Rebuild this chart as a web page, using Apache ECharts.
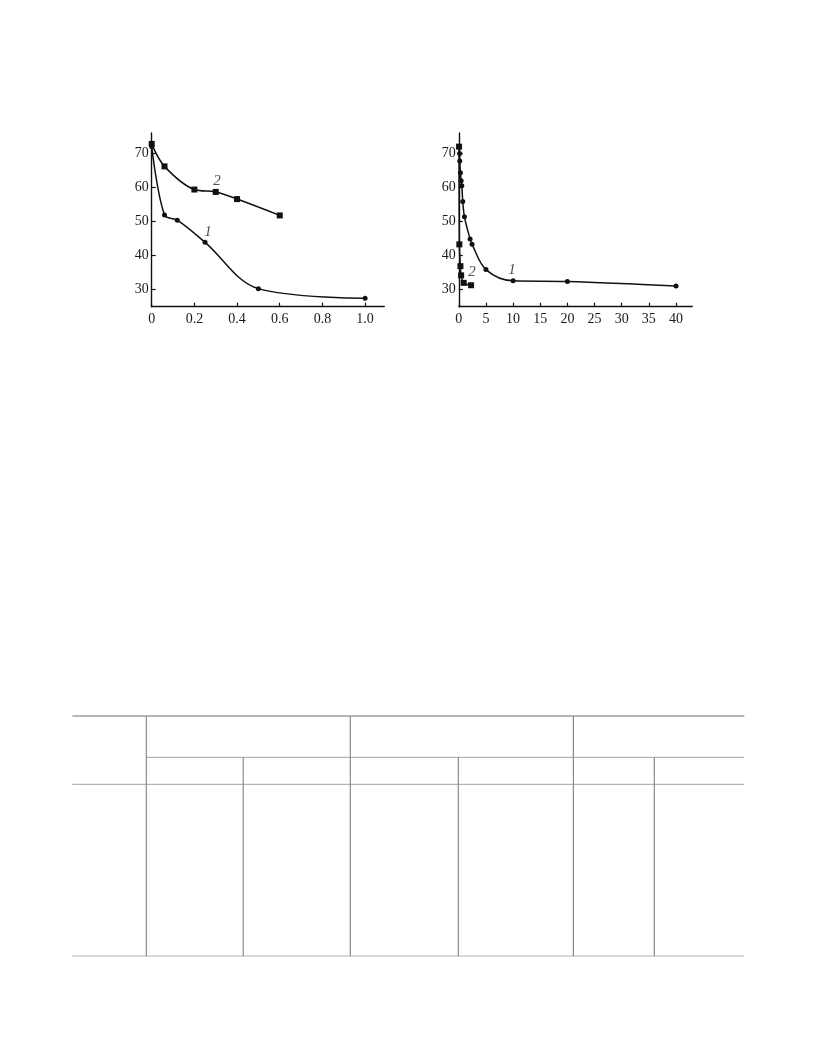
<!DOCTYPE html>
<html>
<head>
<meta charset="utf-8">
<script src="https://cdn.jsdelivr.net/npm/echarts@6/dist/echarts.min.js"></script>
<style>
html,body{margin:0;padding:0;background:#fff;}
#c{width:816px;height:1056px;}
</style>
</head>
<body>
<div id="c"></div>
<script>
// ---- data ----
const leftCurve1 = [[0,72],[0.06,51.9],[0.12,50.4],[0.25,43.9],[0.5,30.3],[1.0,27.5]];
const leftCurve2 = [[0,72.8],[0.06,66.2],[0.2,59.4],[0.3,58.7],[0.4,56.6],[0.6,51.8]];
const rightCurve1 = [[0.1,72],[0.15,70],[0.18,67.8],[0.3,64.3],[0.43,62],[0.55,60.5],[0.73,55.9],[1.04,51.4],[2.08,44.9],[2.44,43.3],[5,35.9],[10,32.6],[20,32.4],[40,31.1]];
const rightCurve2 = [[0.05,72],[0.1,43.3],[0.3,36.9],[0.43,34.2],[0.9,32],[2.26,31.3]];
const leftXTicks = [0,0.2,0.4,0.6,0.8,1.0];
const rightXTicks = [0,5,10,15,20,25,30,35,40];
const yTicks = [30,40,50,60,70];
const leftLabels = [{value:[0.306,61.8],text:'2'},{value:[0.264,46.8],text:'1'}];
const rightLabels = [{value:[2.45,35.1],text:'2'},{value:[9.8,35.8],text:'1'}];

const FONT = 'Liberation Serif';
const axisCommon = {
  axisLine:{show:true,onZero:false,lineStyle:{color:'#111',width:1.4}},
  axisTick:{show:true,inside:true,length:4,lineStyle:{color:'#111',width:1.2}},
  splitLine:{show:false},
  axisLabel:{color:'#1a1a1a',fontFamily:FONT,fontSize:14}
};
function xAxis(idx,max,ticks,fmt){
  return Object.assign({},axisCommon,{
    type:'value',gridIndex:idx,min:0,max:max,
    axisTick:Object.assign({},axisCommon.axisTick,{customValues:ticks}),
    axisLabel:Object.assign({},axisCommon.axisLabel,{customValues:ticks,margin:6,formatter:fmt})
  });
}
function yAxis(idx){
  return Object.assign({},axisCommon,{
    type:'value',gridIndex:idx,min:25,max:76,
    axisTick:Object.assign({},axisCommon.axisTick,{customValues:yTicks}),
    axisLabel:Object.assign({},axisCommon.axisLabel,{customValues:yTicks,margin:3})
  });
}
function lineSeries(idx,data,sym,size){
  return {type:'line',xAxisIndex:idx,yAxisIndex:idx,data:data,smooth:0.35,
    symbol:sym,symbolSize:size,showAllSymbol:true,
    lineStyle:{color:'#111',width:1.5},itemStyle:{color:'#111'},z:3};
}
function labelSeries(idx,arr){
  return {type:'scatter',xAxisIndex:idx,yAxisIndex:idx,symbolSize:0,
    data:arr.map(d=>({value:d.value,name:d.text})),
    label:{show:true,position:'inside',formatter:p=>p.name,color:'#222',fontFamily:FONT,fontStyle:'italic',fontSize:15},
    z:4};
}

// table layout (decoration)
const tX = [72.3,146.3,243.2,350.3,458.3,573.4,654.3,744.3];
const tY = {top:716,sub:757.3,head:784.3,bottom:956};
const g = [];
function hl(x1,x2,y,c){g.push({type:'line',shape:{x1:x1,y1:y,x2:x2,y2:y},style:{stroke:c,lineWidth:1.2}});}
function vl(x,y1,y2,c){g.push({type:'line',shape:{x1:x,y1:y1,x2:x,y2:y2},style:{stroke:c,lineWidth:1.2}});}
hl(tX[0],tX[7],tY.top,'#6e6e6e');
hl(tX[1],tX[7],tY.sub,'#b4b4b4');
hl(tX[0],tX[7],tY.head,'#b4b4b4');
hl(tX[0],tX[7],tY.bottom,'#b4b4b4');
[1,3,5].forEach(i=>vl(tX[i],tY.top,tY.bottom,'#8a8a8a'));
[2,4,6].forEach(i=>vl(tX[i],tY.sub,tY.bottom,'#8a8a8a'));

const chart = echarts.init(document.getElementById('c'),null,{renderer:'canvas'});
chart.setOption({
  backgroundColor:'#fff',
  animation:false,
  grid:[
    {left:151.7,top:133,width:232.6,height:173.7},
    {left:458.8,top:133,width:233.5,height:173.7}
  ],
  xAxis:[
    xAxis(0,1.09,leftXTicks,v=>v===0?'0':v.toFixed(1)),
    xAxis(1,43,rightXTicks,v=>String(v))
  ],
  yAxis:[yAxis(0),yAxis(1)],
  series:[
    lineSeries(0,leftCurve1,'circle',5),
    lineSeries(0,leftCurve2,'rect',6),
    labelSeries(0,leftLabels),
    lineSeries(1,rightCurve1,'circle',5),
    lineSeries(1,rightCurve2,'rect',6),
    labelSeries(1,rightLabels)
  ],
  graphic:g
});
</script>
</body>
</html>
